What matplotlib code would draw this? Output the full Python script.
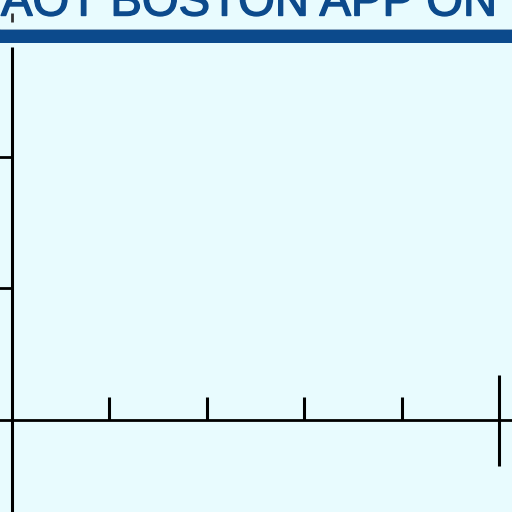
import matplotlib
matplotlib.use("Agg")
import matplotlib.pyplot as plt
import matplotlib.patheffects as pe

# chart content
title = "AOT BOSTON APP ON"
x_ticks = [1, 2, 3, 4]
x_end = 5
y_ticks = [1, 2]
y_top = 2.84

bg = "#e8fbfe"
navy = "#0c4a8c"

fig = plt.figure(figsize=(5.12, 5.12), dpi=100, facecolor=bg)
ax = fig.add_axes([0, 0, 1, 1])
ax.set_facecolor(bg)
ax.set_xlim(-0.123, 5.133)
ax.set_ylim(-0.70, 3.194)
ax.axis("off")

# axes
ax.plot([-0.2, 5.2], [0, 0], color="black", lw=2.0, solid_capstyle="butt")
ax.plot([0, 0], [-0.8, y_top], color="black", lw=2.2, solid_capstyle="butt")
ax.plot([0, 0], [3.03, 3.095], color="#333333", lw=2.0, solid_capstyle="butt")
# x ticks pointing up
ax.vlines(x_ticks, 0, 0.175, color="black", lw=2.2)
# end marker
ax.vlines([x_end], -0.35, 0.342, color="black", lw=2.2)
# y ticks pointing left
ax.hlines(y_ticks, -0.2, 0, color="black", lw=2.0)

# header bar and clipped title
fig.add_artist(plt.Rectangle((0, 1 - 43 / 512), 1, 14 / 512,
                             transform=fig.transFigure, color=navy, lw=0))
fig.add_artist(plt.Line2D([0, 1], [1 - 28.5 / 512] * 2, transform=fig.transFigure,
                          color="#a9bfd0", lw=0.6))
fig.text(497 / 512, 1 - 15.5 / 512, title, ha="right", va="baseline",
         fontsize=34, color=navy, family="Liberation Sans",
         path_effects=[pe.withStroke(linewidth=1.0, foreground=navy)])

fig.savefig("out.png", dpi=100, facecolor=bg)
